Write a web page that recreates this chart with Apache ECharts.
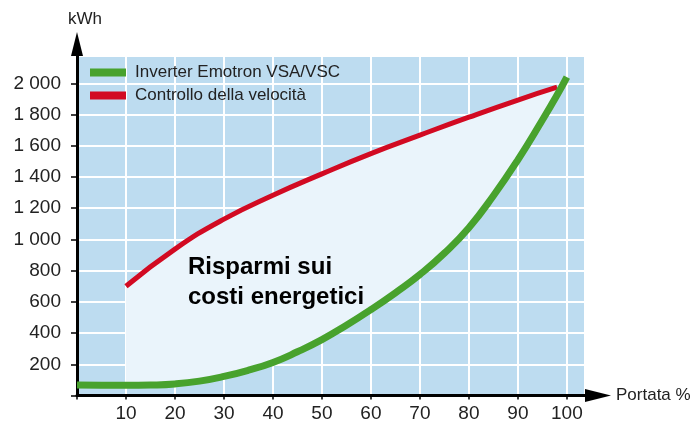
<!DOCTYPE html>
<html>
<head>
<meta charset="utf-8">
<script src="https://cdn.jsdelivr.net/npm/echarts@6.0.0/dist/echarts.min.js"></script>
<style>
  html, body { margin: 0; padding: 0; background: #fff; }
  #chart { width: 695px; height: 421px; }
</style>
</head>
<body>
<div id="chart"></div>
<script>
// portata % (x) and consumo kWh (y)
const flow = [0, 5, 10, 15, 20, 25, 30, 35, 40, 45, 50, 55, 60, 65, 70, 75, 80, 85, 90, 95, 98, 100];
const inverter = [68, 66, 65, 67, 74, 92, 122, 162, 212, 280, 358, 450, 550, 658, 775, 912, 1075, 1280, 1510, 1765, 1925, 2040];

const speedFlow = [10, 20, 30, 40, 50, 60, 70, 80, 90, 98];
const speedCtrl = [700, 938, 1130, 1283, 1420, 1550, 1668, 1783, 1893, 1975];

const names = ['Inverter Emotron VSA/VSC', 'Controllo della velocità'];
const savingsText = 'Risparmi sui\ncosti energetici';

const FONT = '"Liberation Sans", Arial, sans-serif';
const GREEN = '#48a22d';
const RED = '#d20a22';

// savings band: lower edge = inverter curve, stacked gap up to the speed-control curve
// rows are [kWh, portata] so the stack runs on the kWh dimension
const inverterAt = x => inverter[flow.indexOf(x)];
const bandBase = speedFlow.map(x => [inverterAt(x), x]);
const bandGap = speedFlow.map((x, i) => [speedCtrl[i] - inverterAt(x), x]);

const thousands = v => String(v).replace(/\B(?=(\d{3})+(?!\d))/g, ' ');

const chart = echarts.init(document.getElementById('chart'));
chart.setOption({
    animation: false,
    textStyle: {fontFamily: FONT},
    grid: {
        left: 77,
        right: 110,
        top: 56,
        bottom: 25.5,
        outerBoundsMode: 'none',
        containLabel: false,
        show: true,
        backgroundColor: '#bddcf0',
        borderWidth: 0
    },
    legend: {
        data: names,
        orient: 'vertical',
        left: 90,
        top: 64,
        padding: 0,
        icon: 'rect',
        itemWidth: 36,
        itemHeight: 8,
        itemGap: 6,
        textStyle: {
            color: '#222',
            fontSize: 17,
            fontFamily: FONT,
            padding: [0, 0, 0, 4]
        }
    },
    xAxis: {
        type: 'value',
        min: 0,
        max: 103.7,
        interval: 10,
        name: 'Portata %',
        nameLocation: 'end',
        nameGap: 31,
        nameTextStyle: {color: '#222', fontSize: 17, fontFamily: FONT, padding: [5, 0, 0, 0]},
        axisLine: {
            onZero: false,
            symbol: ['none', 'triangle'],
            symbolSize: [13, 26],
            symbolOffset: [0, 13],
            lineStyle: {color: '#000', width: 3}
        },
        axisTick: {show: true, length: 4, lineStyle: {color: '#000', width: 1.5}},
        axisLabel: {
            color: '#222',
            fontSize: 19,
            margin: 9,
            showMaxLabel: false,
            formatter: v => (v === 0 || v > 100 ? '' : String(v))
        },
        splitLine: {show: true, lineStyle: {color: '#fff', width: 2}}
    },
    yAxis: {
        type: 'value',
        min: 0,
        max: 2175,
        interval: 200,
        name: 'kWh',
        nameLocation: 'end',
        nameGap: 28,
        nameTextStyle: {color: '#222', fontSize: 17, fontFamily: FONT, padding: [0, 0, 0, 16]},
        axisLine: {
            onZero: false,
            symbol: ['none', 'triangle'],
            symbolSize: [12, 24],
            symbolOffset: [0, 12],
            lineStyle: {color: '#000', width: 3}
        },
        axisTick: {show: true, length: 6, lineStyle: {color: '#000', width: 1.5}},
        axisLabel: {
            color: '#222',
            fontSize: 19,
            margin: 16,
            showMaxLabel: false,
            formatter: v => (v === 0 || v > 2000 ? '' : thousands(v))
        },
        splitLine: {show: true, lineStyle: {color: '#fff', width: 2}}
    },
    graphic: [{
        type: 'text',
        left: 188,
        top: 252,
        z: 100,
        style: {
            text: savingsText,
            fill: '#000',
            font: 'bold 24px ' + FONT,
            lineHeight: 30
        }
    }],
    series: [
        {
            name: 'base',
            type: 'line',
            stack: 'band',
            data: bandBase,
            encode: {x: 1, y: 0},
            smooth: true,
            symbol: 'none',
            silent: true,
            lineStyle: {opacity: 0},
            z: 1
        },
        {
            name: 'band',
            type: 'line',
            stack: 'band',
            data: bandGap,
            encode: {x: 1, y: 0},
            smooth: true,
            symbol: 'none',
            silent: true,
            lineStyle: {opacity: 0},
            areaStyle: {color: '#eaf4fb', opacity: 1},
            z: 1
        },
        {
            name: names[1],
            type: 'line',
            data: speedFlow.map((x, i) => [x, speedCtrl[i]]),
            smooth: true,
            symbol: 'none',
            color: RED,
            itemStyle: {color: RED},
            lineStyle: {color: RED, width: 5, cap: 'butt'},
            z: 3
        },
        {
            name: names[0],
            type: 'line',
            data: flow.map((x, i) => [x, inverter[i]]),
            smooth: true,
            symbol: 'none',
            color: GREEN,
            itemStyle: {color: GREEN},
            lineStyle: {color: GREEN, width: 7, cap: 'butt'},
            z: 4
        }
    ]
});
</script>
</body>
</html>
